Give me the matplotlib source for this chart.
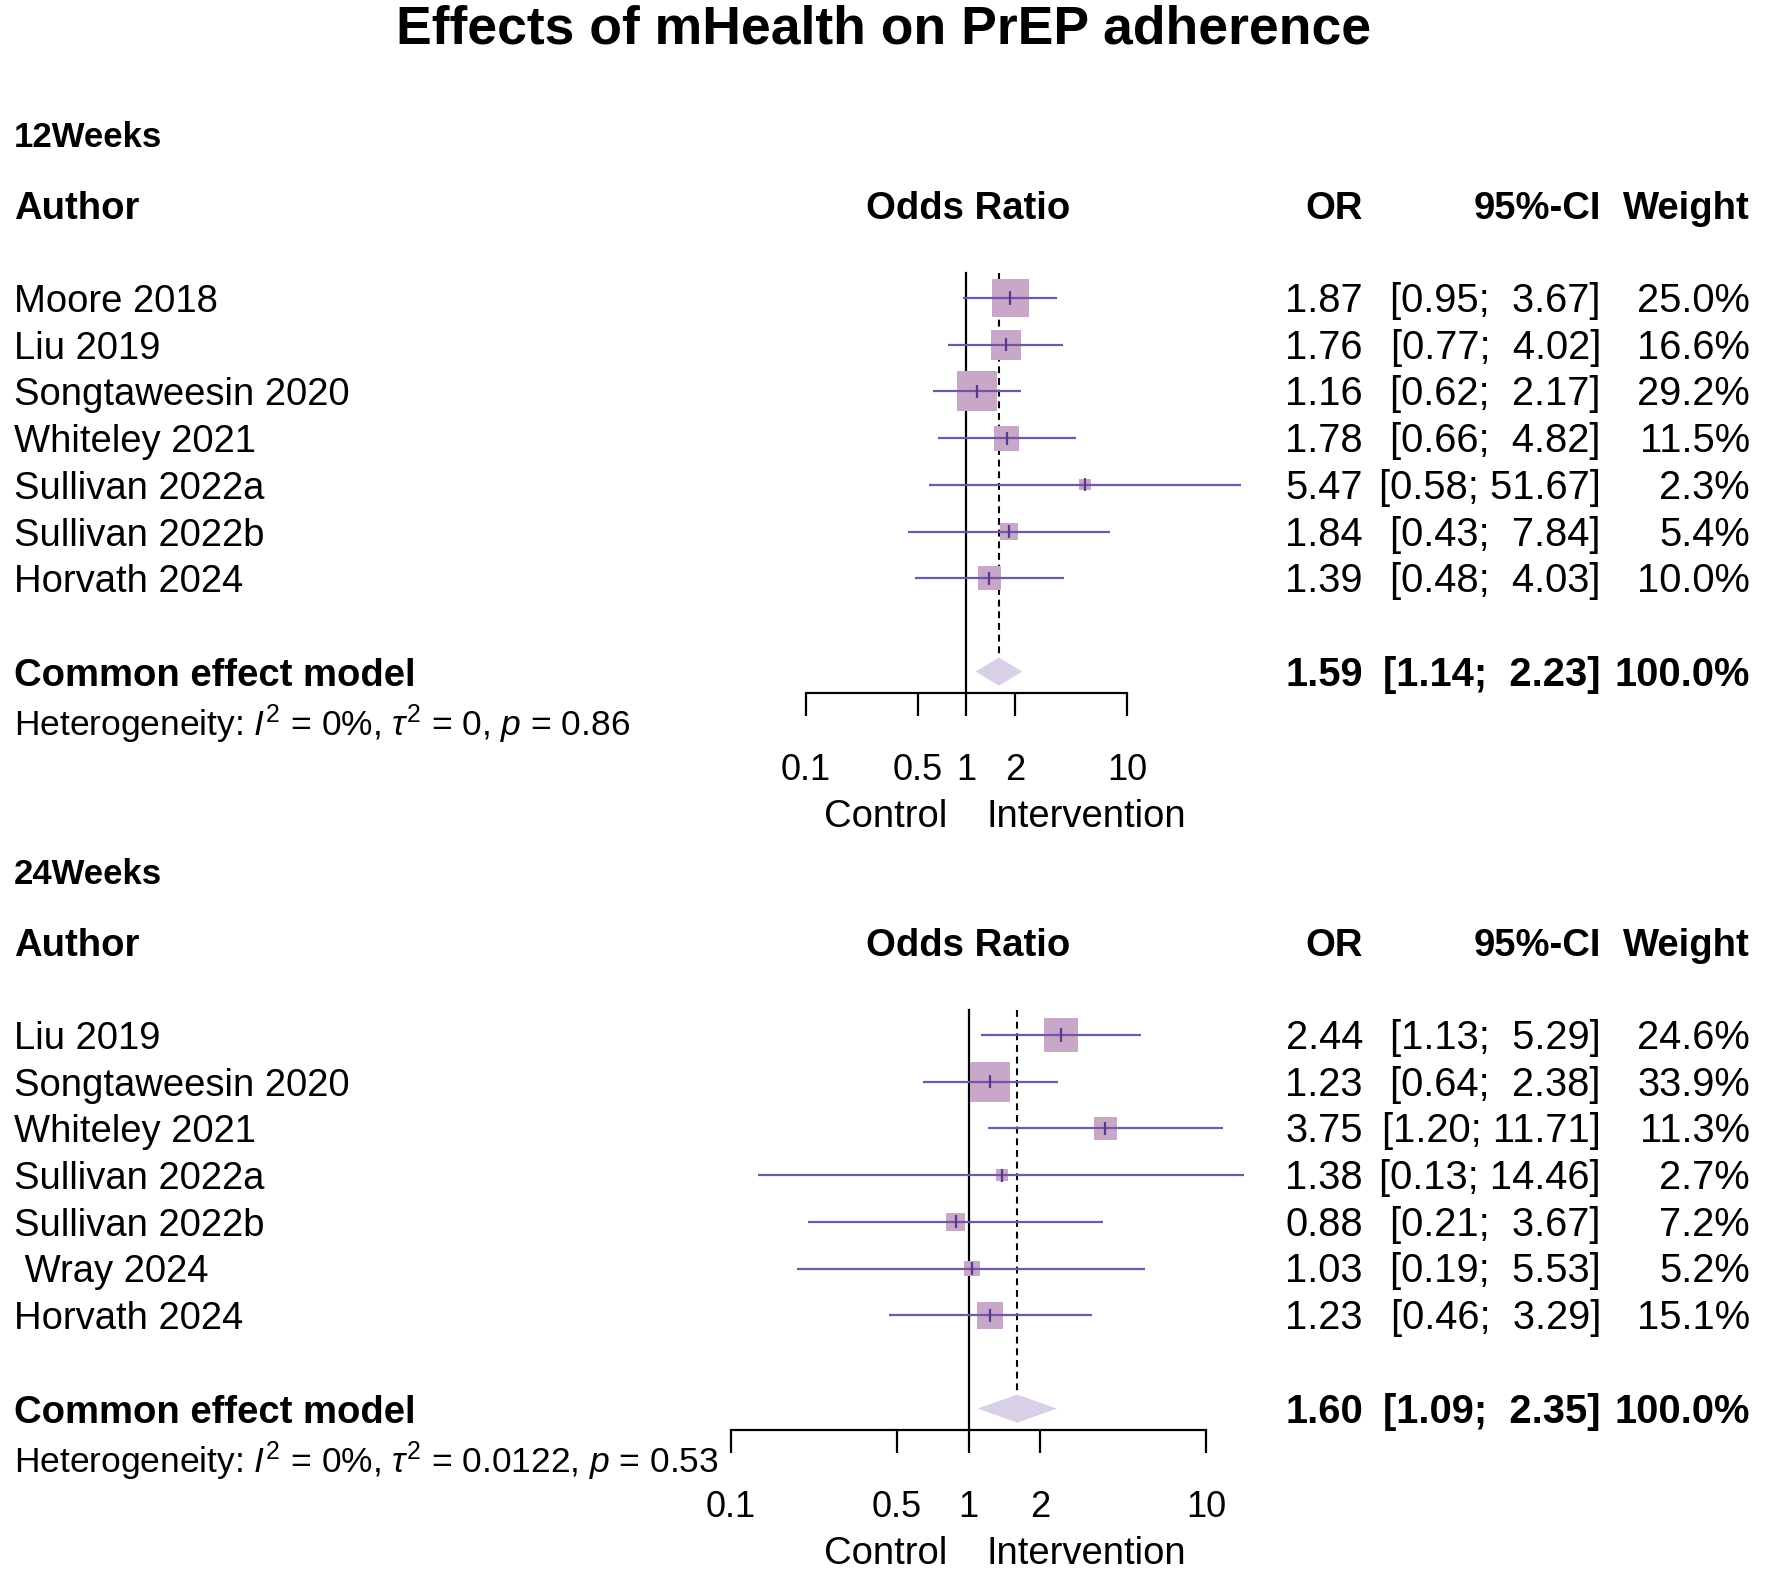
import matplotlib
matplotlib.use("Agg")
import matplotlib.pyplot as plt
import matplotlib.transforms as mtransforms
from matplotlib.patches import Polygon
from matplotlib.ticker import NullLocator, FixedLocator, FixedFormatter
import numpy as np

plt.rcParams['font.family'] = ['Liberation Sans', 'DejaVu Sans']
plt.rcParams['mathtext.fontset'] = 'custom'
plt.rcParams['mathtext.rm'] = 'Liberation Sans'
plt.rcParams['mathtext.it'] = 'Liberation Sans:italic'
plt.rcParams['mathtext.bf'] = 'Liberation Sans:bold'

# ---------------- data ----------------
title = "Effects of mHealth on PrEP adherence"

authors_12 = ["Moore 2018", "Liu 2019", "Songtaweesin 2020", "Whiteley 2021",
              "Sullivan 2022a", "Sullivan 2022b", "Horvath 2024"]
or_12 = [1.87, 1.76, 1.16, 1.78, 5.47, 1.84, 1.39]
lo_12 = [0.95, 0.77, 0.62, 0.66, 0.58, 0.43, 0.48]
hi_12 = [3.67, 4.02, 2.17, 4.82, 51.67, 7.84, 4.03]
w_12 = [25.0, 16.6, 29.2, 11.5, 2.3, 5.4, 10.0]
pooled_12 = [1.59, 1.14, 2.23]
het_12 = r"Heterogeneity: $I^2$ = 0%, $\tau^2$ = 0, $p$ = 0.86"

authors_24 = ["Liu 2019", "Songtaweesin 2020", "Whiteley 2021", "Sullivan 2022a",
              "Sullivan 2022b", " Wray 2024", "Horvath 2024"]
or_24 = [2.44, 1.23, 3.75, 1.38, 0.88, 1.03, 1.23]
lo_24 = [1.13, 0.64, 1.20, 0.13, 0.21, 0.19, 0.46]
hi_24 = [5.29, 2.38, 11.71, 14.46, 3.67, 5.53, 3.29]
w_24 = [24.6, 33.9, 11.3, 2.7, 7.2, 5.2, 15.1]
pooled_24 = [1.60, 1.09, 2.35]
het_24 = r"Heterogeneity: $I^2$ = 0%, $\tau^2$ = 0.0122, $p$ = 0.53"

tick_vals = [0.1, 0.5, 1, 2, 10]
tick_labels = ["0.1", "0.5", "1", "2", "10"]

# ---------------- style ----------------
W, H = 1783, 1578
ROWH = 46.7
SQ_COL = '#c8a8c8'
CI_COL = '#7057aa'
EST_COL = '#573a8c'
DIA_COL = '#d9d0e8'
FS = 27.5
FS_NUM = 28.7
FS_SMALL = 25.5
X_OR, X_CI, X_W = 1363, 1601, 1750

fig = plt.figure(figsize=(W / 100, H / 100), dpi=100)
fig.patch.set_facecolor('white')

fig.text(884 / W, 1 - 44 / H, title, ha='center', va='baseline',
         fontsize=38.5, fontweight='bold')


def panel(label, authors, ors, los, his, ws, pooled, het,
          top_px, bot_px, row0, x1, ppd):
    ax = fig.add_axes([0, 1 - bot_px / H, 1, (bot_px - top_px) / H])
    ax.patch.set_visible(False)
    ax.set_xscale('log')
    ax.set_xlim(10 ** ((0 - x1) / ppd), 10 ** ((W - x1) / ppd))
    ax.set_ylim((bot_px - row0) / ROWH, (top_px - row0) / ROWH)
    for s in ['left', 'right', 'top']:
        ax.spines[s].set_visible(False)
    axis_row = 8.46
    ax.spines['bottom'].set_position(('data', axis_row))
    ax.spines['bottom'].set_bounds(tick_vals[0], tick_vals[-1])
    ax.spines['bottom'].set_linewidth(1.6)
    ax.xaxis.set_major_locator(FixedLocator(tick_vals))
    ax.xaxis.set_major_formatter(FixedFormatter(tick_labels))
    ax.xaxis.set_minor_locator(NullLocator())
    ax.tick_params(axis='x', direction='out', length=16.5, width=1.6,
                   pad=27, labelsize=26)
    ax.set_yticks([])

    tr = mtransforms.blended_transform_factory(fig.transFigure, ax.transData)

    def txt(xpix, row, s, ha='left', size=FS, weight='normal', dy=14):
        t = mtransforms.offset_copy(tr, fig=fig, y=-dy, units='dots')
        ax.text(xpix / W, row, s, transform=t, ha=ha, va='baseline',
                fontsize=size, fontweight=weight, clip_on=False)

    # labels
    txt(14, -3.5, label, size=25, weight='bold', dy=12.5)
    txt(14, -2, "Author", weight='bold')
    txt(968, -2, "Odds Ratio", ha='center', weight='bold')
    txt(X_OR, -2, "OR", ha='right', weight='bold')
    txt(X_CI, -2, "95%-CI", ha='right', weight='bold')
    txt(X_W, -2, "Weight", ha='right', weight='bold')

    n = len(authors)
    rows = np.arange(n)
    wmax = max(ws)
    for i in range(n):
        txt(14, rows[i], authors[i])
        txt(X_OR, rows[i], f"{ors[i]:.2f}", ha='right', size=FS_NUM)
        txt(X_CI, rows[i], f"[{los[i]:.2f}; {his[i]:5.2f}]", ha='right', size=FS_NUM)
        txt(X_W, rows[i], f"{ws[i]:.1f}%", ha='right', size=FS_NUM)

    # reference lines
    ax.plot([1, 1], [-0.535, axis_row], color='black', lw=1.6, zorder=1)
    ax.plot([pooled[0], pooled[0]], [-0.535, 8 - 0.3], color='black',
            lw=1.5, ls=(0, (3.3, 2.3)), zorder=1)

    # squares
    side_px = 40 * np.sqrt(np.array(ws) / wmax)
    ax.scatter(ors, rows, marker='s', s=(side_px * 0.72) ** 2, color=SQ_COL,
               linewidths=0, zorder=2)
    ax.hlines(rows, los, his, color=CI_COL, lw=1.6, zorder=3)
    ax.vlines(ors, rows - 0.14, rows + 0.14, color=EST_COL, lw=1.6, zorder=4)

    # diamond
    d = Polygon([(pooled[1], 8), (pooled[0], 8 - 0.3), (pooled[2], 8),
                 (pooled[0], 8 + 0.3)], closed=True, facecolor=DIA_COL,
                edgecolor='none', zorder=2)
    ax.add_patch(d)

    txt(14, 8, "Common effect model", weight='bold')
    txt(X_OR, 8, f"{pooled[0]:.2f}", ha='right', weight='bold', size=FS_NUM)
    txt(X_CI, 8, f"[{pooled[1]:.2f}; {pooled[2]:5.2f}]", ha='right',
        weight='bold', size=FS_NUM)
    txt(X_W, 8, "100.0%", ha='right', weight='bold', size=FS_NUM)
    txt(14, 9.1, het, size=FS_SMALL, dy=12.5)

    txt(947, axis_row, "Control", ha='right', dy=133.5)
    txt(987, axis_row, "Intervention", ha='left', dy=133.5)
    return ax


panel("12Weeks", authors_12, or_12, lo_12, hi_12, w_12, pooled_12, het_12,
      top_px=120, bot_px=850, row0=298, x1=966.5, ppd=160.5)
panel("24Weeks", authors_24, or_24, lo_24, hi_24, w_24, pooled_24, het_24,
      top_px=860, bot_px=1578, row0=1035, x1=968.7, ppd=237.7)

fig.savefig("out.png", dpi=100, facecolor='white')
